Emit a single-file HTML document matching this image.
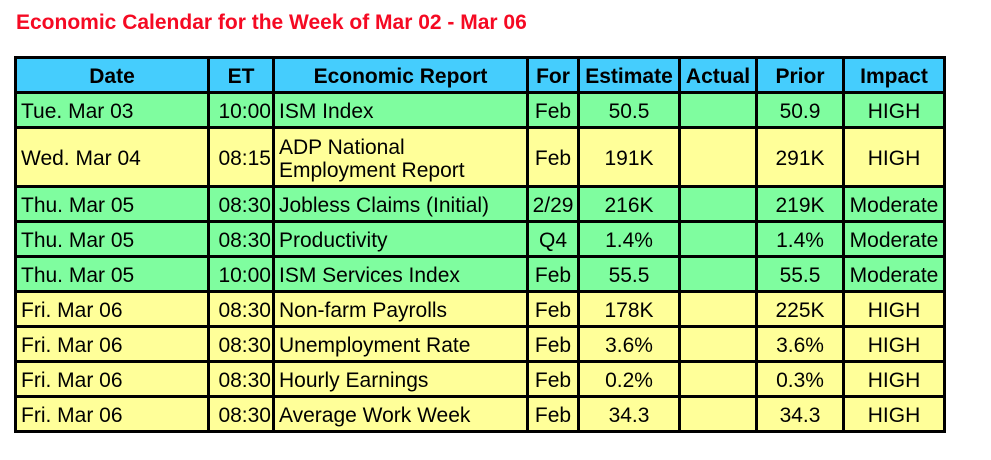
<!DOCTYPE html>
<html><head><style>
body{margin:0;width:991px;height:460px;background:#fff;font-family:"Liberation Sans",Arial,sans-serif;position:relative;overflow:hidden}
h1{position:absolute;left:16px;top:11px;margin:0;font-size:21px;font-weight:bold;color:#f50a23}
.g{position:absolute;left:14px;top:56px;background:#000;padding:3px;display:grid;gap:3px;
grid-template-columns:190px 62px 251px 48px 98px 74px 84px 98px;
grid-template-rows:32px 32px 56px repeat(7,32px)}
.g div{font-size:21px;color:#000;display:flex;align-items:center;justify-content:center;line-height:23px;padding:3px 3px 0;white-space:nowrap}
.h{background:#45cdfd;font-weight:bold}
.gr{background:#7ffd9f}.y{background:#ffff99}
.l{justify-content:flex-start!important;padding-left:4px!important}.r{justify-content:flex-end!important;padding-right:1px!important}
</style></head><body>
<h1>Economic Calendar for the Week of Mar 02 - Mar 06</h1>
<div class="g">
<div class="h">Date</div><div class="h">ET</div><div class="h">Economic Report</div><div class="h">For</div><div class="h">Estimate</div><div class="h">Actual</div><div class="h">Prior</div><div class="h">Impact</div>

<div class="gr l">Tue. Mar 03</div><div class="gr r">10:00</div><div class="gr l">ISM Index</div><div class="gr">Feb</div><div class="gr">50.5</div><div class="gr"></div><div class="gr">50.9</div><div class="gr">HIGH</div>

<div class="y l">Wed. Mar 04</div><div class="y r">08:15</div><div class="y l">ADP National<br>Employment Report</div><div class="y">Feb</div><div class="y">191K</div><div class="y"></div><div class="y">291K</div><div class="y">HIGH</div>

<div class="gr l">Thu. Mar 05</div><div class="gr r">08:30</div><div class="gr l">Jobless Claims (Initial)</div><div class="gr">2/29</div><div class="gr">216K</div><div class="gr"></div><div class="gr">219K</div><div class="gr">Moderate</div>

<div class="gr l">Thu. Mar 05</div><div class="gr r">08:30</div><div class="gr l">Productivity</div><div class="gr">Q4</div><div class="gr">1.4%</div><div class="gr"></div><div class="gr">1.4%</div><div class="gr">Moderate</div>

<div class="gr l">Thu. Mar 05</div><div class="gr r">10:00</div><div class="gr l">ISM Services Index</div><div class="gr">Feb</div><div class="gr">55.5</div><div class="gr"></div><div class="gr">55.5</div><div class="gr">Moderate</div>

<div class="y l">Fri. Mar 06</div><div class="y r">08:30</div><div class="y l">Non-farm Payrolls</div><div class="y">Feb</div><div class="y">178K</div><div class="y"></div><div class="y">225K</div><div class="y">HIGH</div>

<div class="y l">Fri. Mar 06</div><div class="y r">08:30</div><div class="y l">Unemployment Rate</div><div class="y">Feb</div><div class="y">3.6%</div><div class="y"></div><div class="y">3.6%</div><div class="y">HIGH</div>

<div class="y l">Fri. Mar 06</div><div class="y r">08:30</div><div class="y l">Hourly Earnings</div><div class="y">Feb</div><div class="y">0.2%</div><div class="y"></div><div class="y">0.3%</div><div class="y">HIGH</div>

<div class="y l">Fri. Mar 06</div><div class="y r">08:30</div><div class="y l">Average Work Week</div><div class="y">Feb</div><div class="y">34.3</div><div class="y"></div><div class="y">34.3</div><div class="y">HIGH</div>
</div>
</body></html>
